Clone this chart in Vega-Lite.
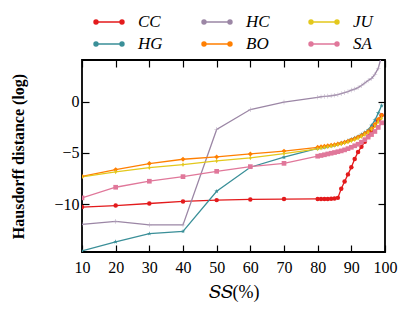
{
  "$schema": "https://vega.github.io/schema/vega-lite/v6.json",
  "width": 303,
  "height": 192,
  "autosize": "none",
  "padding": {"left": 82, "top": 60, "right": 23, "bottom": 60},
  "background": "white",
  "config": {
    "font": "Liberation Serif",
    "view": {"stroke": "black", "strokeWidth": 1.8},
    "axis": {
      "domain": false,
      "grid": false,
      "tickColor": "black",
      "tickWidth": 1.2,
      "tickSize": -7,
      "labelColor": "black",
      "labelFont": "Liberation Serif",
      "labelFontSize": 16,
      "labelFlush": false,
      "titleColor": "black",
      "titleFont": "Liberation Serif"
    }
  },
  "data": {
    "values": [
      {"x": 10, "CC": -10.3, "HG": -14.6, "HC": -12.0, "BO": -7.3, "JU": -7.35, "SA": -9.4},
      {"x": 20, "CC": -10.15, "HG": -13.7, "HC": -11.7, "BO": -6.63, "JU": -6.86, "SA": -8.36},
      {"x": 30, "CC": -9.95, "HG": -12.9, "HC": -12.05, "BO": -6.04, "JU": -6.44, "SA": -7.77},
      {"x": 40, "CC": -9.75, "HG": -12.68, "HC": -12.05, "BO": -5.62, "JU": -6.14, "SA": -7.32},
      {"x": 50, "CC": -9.62, "HG": -8.76, "HC": -2.7, "BO": -5.39, "JU": -5.78, "SA": -6.8},
      {"x": 60, "CC": -9.55, "HG": -6.4, "HC": -0.75, "BO": -5.1, "JU": -5.49, "SA": -6.34},
      {"x": 70, "CC": -9.52, "HG": -5.42, "HC": -0.02, "BO": -4.82, "JU": -5.06, "SA": -6.02},
      {"x": 80, "CC": -9.5, "HG": -4.55, "HC": 0.45, "BO": -4.45, "JU": -4.6, "SA": -5.32},
      {"x": 81, "CC": -9.5, "HG": -4.5, "HC": 0.5, "BO": -4.4, "JU": -4.52, "SA": -5.25},
      {"x": 82, "CC": -9.5, "HG": -4.44, "HC": 0.53, "BO": -4.35, "JU": -4.45, "SA": -5.18},
      {"x": 83, "CC": -9.5, "HG": -4.38, "HC": 0.56, "BO": -4.3, "JU": -4.4, "SA": -5.1},
      {"x": 84, "CC": -9.48, "HG": -4.3, "HC": 0.6, "BO": -4.25, "JU": -4.33, "SA": -5.03},
      {"x": 85, "CC": -9.46, "HG": -4.22, "HC": 0.65, "BO": -4.2, "JU": -4.27, "SA": -4.96},
      {"x": 86, "CC": -9.4, "HG": -4.13, "HC": 0.7, "BO": -4.12, "JU": -4.2, "SA": -4.88},
      {"x": 87, "CC": -8.5, "HG": -4.03, "HC": 0.8, "BO": -4.05, "JU": -4.12, "SA": -4.8},
      {"x": 88, "CC": -7.8, "HG": -3.92, "HC": 0.9, "BO": -3.95, "JU": -4.03, "SA": -4.7},
      {"x": 89, "CC": -7.1, "HG": -3.8, "HC": 1.0, "BO": -3.85, "JU": -3.93, "SA": -4.58},
      {"x": 90, "CC": -6.4, "HG": -3.67, "HC": 1.15, "BO": -3.72, "JU": -3.82, "SA": -4.45},
      {"x": 91, "CC": -5.6, "HG": -3.53, "HC": 1.25, "BO": -3.6, "JU": -3.7, "SA": -4.3},
      {"x": 92, "CC": -4.9, "HG": -3.38, "HC": 1.4, "BO": -3.45, "JU": -3.55, "SA": -4.15},
      {"x": 93, "CC": -4.4, "HG": -3.2, "HC": 1.6, "BO": -3.3, "JU": -3.4, "SA": -3.95},
      {"x": 94, "CC": -3.9, "HG": -3.0, "HC": 1.85, "BO": -3.1, "JU": -3.2, "SA": -3.7},
      {"x": 95, "CC": -3.4, "HG": -2.75, "HC": 2.1, "BO": -2.9, "JU": -3.0, "SA": -3.45},
      {"x": 96, "CC": -2.8, "HG": -2.3, "HC": 2.3, "BO": -2.6, "JU": -2.7, "SA": -3.2},
      {"x": 97, "CC": -2.3, "HG": -1.8, "HC": 2.7, "BO": -2.2, "JU": -2.35, "SA": -2.9},
      {"x": 98, "CC": -1.8, "HG": -1.1, "HC": 3.3, "BO": -1.7, "JU": -1.95, "SA": -2.5},
      {"x": 99, "CC": -1.3, "HG": -0.35, "HC": 4.5, "BO": -1.3, "JU": -1.6, "SA": -2.05}
    ]
  },
  "transform": [
    {"fold": ["CC", "HG", "HC", "BO", "JU", "SA"], "as": ["m", "y"]}
  ],
  "layer": [
    {
      "mark": {"type": "line", "strokeWidth": 1.3, "clip": true},
      "encoding": {
        "x": {
          "field": "x", "type": "quantitative",
          "scale": {"domain": [10, 100], "nice": false, "zero": false},
          "axis": {"values": [10, 20, 30, 40, 50, 60, 70, 80, 90, 100], "labelPadding": 14, "title": "𝑆𝑆(%)", "titleFontSize": 18, "titleFontWeight": "normal", "titlePadding": 8}
        },
        "y": {
          "field": "y", "type": "quantitative",
          "scale": {"domain": [-14.7, 4.1], "nice": false, "zero": false},
          "axis": {"values": [-10, -5, 0], "labelPadding": 10, "title": "Hausdorff distance (log)", "titleFontSize": 16, "titleFontWeight": "bold", "titlePadding": 27}
        },
        "color": {
          "field": "m", "type": "nominal",
          "scale": {"domain": ["CC", "HC", "JU", "HG", "BO", "SA"], "range": ["#e31a1c", "#9b86a5", "#e3c81c", "#3a8f98", "#ff7f00", "#e0779a"]},
          "legend": {
            "title": null, "orient": "none", "legendX": 13, "legendY": -52, "columns": 3, "direction": "horizontal",
            "symbolType": "M-1,0H1M-1.15,0a0.15,0.15 0 1,0 0.3,0a0.15,0.15 0 1,0 -0.3,0M0.85,0a0.15,0.15 0 1,0 0.3,0a0.15,0.15 0 1,0 -0.3,0",
            "symbolSize": 676, "symbolStrokeWidth": 1.5, "symbolOpacity": 1,
            "labelFont": "Liberation Serif", "labelFontSize": 17, "labelFontStyle": "italic", "labelColor": "black",
            "labelOffset": 15, "columnPadding": 36, "rowPadding": -4,
            "encode": {
              "symbols": {
                "update": {
                  "fill": {"scale": "color", "field": "value"}
                }
              }
            }
          }
        }
      }
    },
    {
      "encoding": {
        "x": {"field": "x", "type": "quantitative", "scale": {"domain": [10, 100], "nice": false, "zero": false},
          "axis": {"orient": "top", "values": [10, 20, 30, 40, 50, 60, 70, 80, 90, 100], "labels": false, "title": null}},
        "y": {"field": "y", "type": "quantitative", "scale": {"domain": [-14.7, 4.1], "nice": false, "zero": false},
          "axis": {"orient": "right", "values": [-10, -5, 0], "labels": false, "title": null}}
      },
      "layer": [
        {"transform": [{"filter": {"field": "m", "equal": "CC"}}],
         "mark": {"type": "point", "filled": true, "opacity": 1, "size": 20, "clip": true, "shape": "circle", "color": "#e31a1c"}},
        {"transform": [{"filter": {"field": "m", "equal": "HG"}}],
         "mark": {"type": "point", "filled": true, "opacity": 1, "size": 24, "clip": true, "shape": "M0,-1L0.22,-0.3L0.95,-0.3L0.36,0.12L0.59,0.81L0,0.38L-0.59,0.81L-0.36,0.12L-0.95,-0.3L-0.22,-0.3Z", "color": "#3a8f98"}},
        {"transform": [{"filter": {"field": "m", "equal": "HC"}}],
         "mark": {"type": "point", "filled": true, "opacity": 0.8, "size": 22, "clip": true, "shape": "M-1,-0.12H-0.12V-1H0.12V-0.12H1V0.12H0.12V1H-0.12V0.12H-1Z", "color": "#b3a2bb"}},
        {"transform": [{"filter": {"field": "m", "equal": "BO"}}],
         "mark": {"type": "point", "filled": true, "opacity": 1, "size": 24, "clip": true, "shape": "diamond", "color": "#ff7f00"}},
        {"transform": [{"filter": {"field": "m", "equal": "JU"}}],
         "mark": {"type": "point", "filled": true, "opacity": 1, "size": 22, "clip": true, "shape": "M0,-1L0.55,0L0,1L-0.55,0Z", "color": "#e3c81c"}},
        {"transform": [{"filter": {"field": "m", "equal": "SA"}}],
         "mark": {"type": "point", "filled": true, "opacity": 1, "size": 22, "clip": true, "shape": "square", "color": "#e0779a"}}
      ]
    }
  ],
  "resolve": {"axis": {"x": "independent", "y": "independent"}}
}
